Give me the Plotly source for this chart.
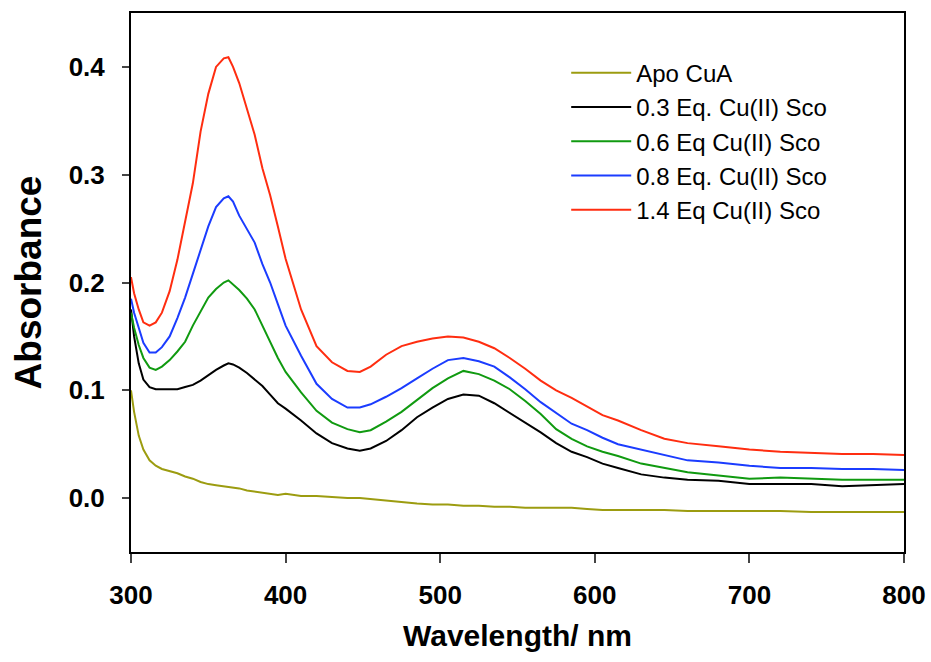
import plotly.graph_objects as go

wavelength = [300, 302, 305, 308, 312, 316, 320, 325, 330, 335, 340, 345, 350, 355, 360, 363, 366,
              370, 375, 380, 385, 390, 395, 400, 410, 420, 430, 440, 448, 455, 465, 475, 485, 495,
              505, 515, 525, 535, 545, 555, 565, 575, 585, 595, 605, 615, 630, 645, 660, 680, 700,
              720, 740, 760, 780, 800]

apo_cua = [0.100, 0.080, 0.058, 0.045, 0.035, 0.030, 0.027, 0.025, 0.023, 0.020, 0.018, 0.015, 0.013,
           0.012, 0.011, 0.010, 0.010, 0.009, 0.007, 0.006, 0.005, 0.004, 0.003, 0.004, 0.002, 0.002,
           0.001, 0.000, 0.000, -0.001, -0.002, -0.004, -0.005, -0.006, -0.006, -0.007, -0.007, -0.008,
           -0.008, -0.009, -0.009, -0.009, -0.009, -0.010, -0.011, -0.011, -0.011, -0.011, -0.012,
           -0.012, -0.012, -0.012, -0.013, -0.013, -0.013, -0.013]

eq03 = [0.175, 0.150, 0.125, 0.110, 0.103, 0.101, 0.101, 0.101, 0.101, 0.103, 0.105, 0.109, 0.114,
        0.119, 0.123, 0.125, 0.124, 0.121, 0.116, 0.110, 0.104, 0.096, 0.088, 0.083, 0.072, 0.060,
        0.051, 0.046, 0.044, 0.046, 0.053, 0.063, 0.075, 0.084, 0.092, 0.096, 0.095, 0.088, 0.079,
        0.070, 0.061, 0.051, 0.043, 0.038, 0.032, 0.028, 0.022, 0.019, 0.017, 0.016, 0.013, 0.013,
        0.013, 0.011, 0.012, 0.013]

eq06 = [0.172, 0.158, 0.142, 0.130, 0.121, 0.119, 0.122, 0.128, 0.136, 0.145, 0.160, 0.173, 0.186,
        0.194, 0.200, 0.202, 0.198, 0.193, 0.185, 0.175, 0.160, 0.145, 0.130, 0.117, 0.098, 0.081,
        0.070, 0.064, 0.061, 0.063, 0.071, 0.080, 0.091, 0.102, 0.111, 0.118, 0.115, 0.109, 0.101,
        0.090, 0.078, 0.064, 0.055, 0.048, 0.043, 0.039, 0.032, 0.028, 0.024, 0.021, 0.018, 0.019,
        0.018, 0.017, 0.017, 0.017]

eq08 = [0.185, 0.172, 0.158, 0.144, 0.135, 0.135, 0.140, 0.150, 0.167, 0.186, 0.208, 0.230, 0.252,
        0.270, 0.278, 0.280, 0.275, 0.262, 0.250, 0.237, 0.217, 0.200, 0.180, 0.160, 0.132, 0.106,
        0.092, 0.084, 0.084, 0.087, 0.094, 0.102, 0.111, 0.120, 0.128, 0.130, 0.127, 0.122, 0.112,
        0.101, 0.089, 0.079, 0.069, 0.063, 0.056, 0.050, 0.045, 0.040, 0.035, 0.033, 0.030, 0.028,
        0.028, 0.027, 0.027, 0.026]

eq14 = [0.205, 0.190, 0.175, 0.163, 0.160, 0.163, 0.172, 0.192, 0.221, 0.255, 0.292, 0.340, 0.375,
        0.400, 0.408, 0.409, 0.400, 0.385, 0.362, 0.337, 0.306, 0.281, 0.252, 0.222, 0.175, 0.141,
        0.126, 0.118, 0.117, 0.122, 0.133, 0.141, 0.145, 0.148, 0.150, 0.149, 0.145, 0.139, 0.130,
        0.120, 0.109, 0.100, 0.093, 0.085, 0.077, 0.072, 0.063, 0.055, 0.051, 0.048, 0.045, 0.043,
        0.042, 0.041, 0.041, 0.040]

series_names = ["Apo CuA", "0.3 Eq. Cu(II) Sco", "0.6 Eq Cu(II) Sco",
                "0.8 Eq. Cu(II) Sco", "1.4 Eq Cu(II) Sco"]
series_values = [apo_cua, eq03, eq06, eq08, eq14]
series_colors = ["#9c9c10", "#000000", "#109a10", "#1b3cff", "#ff2d10"]

x_ticks = [300, 400, 500, 600, 700, 800]
y_ticks = [0.0, 0.1, 0.2, 0.3, 0.4]

FONT = "Arial, Liberation Sans, sans-serif"

fig = go.Figure()
for name, vals, col in zip(series_names, series_values, series_colors):
    fig.add_trace(go.Scatter(x=wavelength, y=vals, mode="lines", name=name,
                             line=dict(color=col, width=2)))

fig.update_layout(
    width=931, height=662,
    margin=dict(l=131, r=27, t=13, b=110),
    paper_bgcolor="white", plot_bgcolor="white",
    font=dict(family=FONT, color="black"),
    legend=dict(x=0.563, y=0.93, xanchor="left", yanchor="top",
                font=dict(family=FONT, size=24, color="black"),
                bgcolor="rgba(0,0,0,0)", itemwidth=60, tracegroupgap=0),
    xaxis=dict(range=[300, 800], tickvals=x_ticks, ticks="outside", ticklen=9, tickwidth=2,
               showline=True, linewidth=2, linecolor="black", mirror=True, showgrid=False,
               zeroline=False, ticklabelstandoff=10, automargin=False,
               ticklabeloverflow="allow",
               tickfont=dict(family=FONT, size=26, weight="bold"),
               title=dict(text="Wavelength/ nm", font=dict(family=FONT, size=30, weight="bold"),
                          standoff=16)),
    yaxis=dict(range=[-0.05, 0.45], tickvals=y_ticks, tickformat=".1f", ticks="outside",
               ticklen=7, tickwidth=2, showline=True, linewidth=2, linecolor="black",
               mirror=True, showgrid=False, zeroline=False, ticklabelstandoff=12,
               tickfont=dict(family=FONT, size=26, weight="bold"),
               title=dict(text="Absorbance", font=dict(family=FONT, size=37, weight="bold"),
                          standoff=16)),
)

fig.write_html("out.html")
